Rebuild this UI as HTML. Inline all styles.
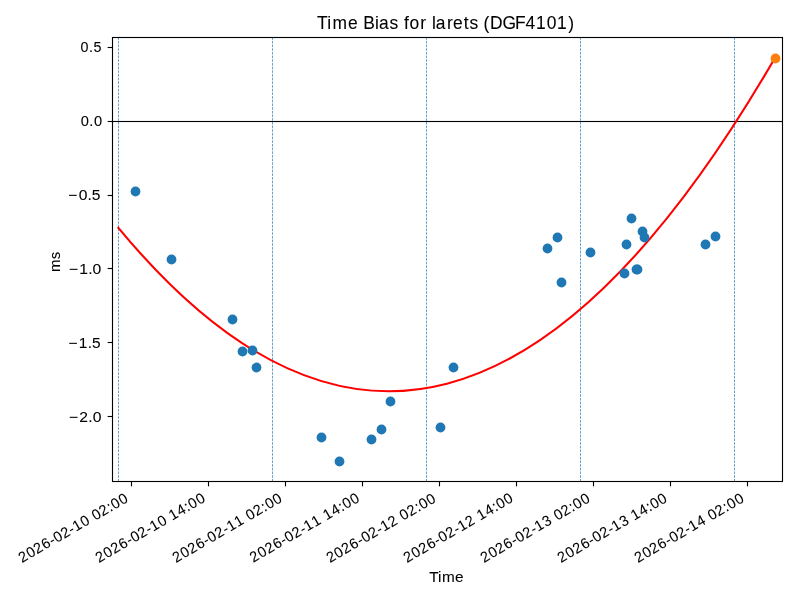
<!DOCTYPE html>
<html><head><meta charset="utf-8"><title>Time Bias for larets (DGF4101)</title>
<style>html,body{margin:0;padding:0;background:#fff;}body{width:800px;height:600px;overflow:hidden;}svg{display:block;}svg{will-change:transform;}</style>
</head><body>
<svg width="800" height="600" viewBox="0 0 800 600">
<rect x="0" y="0" width="800" height="600" fill="#ffffff"/>
<line x1="118.500" y1="481.46" x2="118.500" y2="37" stroke="#1f77b4" stroke-width="0.6944" stroke-dasharray="2.5694 1.1111"/>
<line x1="272.500" y1="481.46" x2="272.500" y2="37" stroke="#1f77b4" stroke-width="0.6944" stroke-dasharray="2.5694 1.1111"/>
<line x1="426.500" y1="481.46" x2="426.500" y2="37" stroke="#1f77b4" stroke-width="0.6944" stroke-dasharray="2.5694 1.1111"/>
<line x1="580.500" y1="481.46" x2="580.500" y2="37" stroke="#1f77b4" stroke-width="0.6944" stroke-dasharray="2.5694 1.1111"/>
<line x1="734.500" y1="481.46" x2="734.500" y2="37" stroke="#1f77b4" stroke-width="0.6944" stroke-dasharray="2.5694 1.1111"/>
<rect x="112.5" y="120.9445" width="670" height="1.111" fill="#000"/>
<path d="M118.400,227.817 Q446.950,625.031 775.500,56.943" fill="none" stroke="#ff0000" stroke-width="2.0833" stroke-linecap="square"/>
<circle cx="135.5" cy="191.5" r="4.89" fill="#1f77b4"/>
<circle cx="171.5" cy="259.5" r="4.89" fill="#1f77b4"/>
<circle cx="232.5" cy="319.5" r="4.89" fill="#1f77b4"/>
<circle cx="242.5" cy="351.5" r="4.89" fill="#1f77b4"/>
<circle cx="252.5" cy="350.5" r="4.89" fill="#1f77b4"/>
<circle cx="256.5" cy="367.5" r="4.89" fill="#1f77b4"/>
<circle cx="321.5" cy="437.5" r="4.89" fill="#1f77b4"/>
<circle cx="339.5" cy="461.5" r="4.89" fill="#1f77b4"/>
<circle cx="371.5" cy="439.5" r="4.89" fill="#1f77b4"/>
<circle cx="381.5" cy="429.5" r="4.89" fill="#1f77b4"/>
<circle cx="390.5" cy="401.5" r="4.89" fill="#1f77b4"/>
<circle cx="440.5" cy="427.5" r="4.89" fill="#1f77b4"/>
<circle cx="453.5" cy="367.5" r="4.89" fill="#1f77b4"/>
<circle cx="547.5" cy="248.5" r="4.89" fill="#1f77b4"/>
<circle cx="557.5" cy="237.5" r="4.89" fill="#1f77b4"/>
<circle cx="561.5" cy="282.5" r="4.89" fill="#1f77b4"/>
<circle cx="590.5" cy="252.5" r="4.89" fill="#1f77b4"/>
<circle cx="624.5" cy="273.5" r="4.89" fill="#1f77b4"/>
<circle cx="626.5" cy="244.5" r="4.89" fill="#1f77b4"/>
<circle cx="631.5" cy="218.5" r="4.89" fill="#1f77b4"/>
<circle cx="636.5" cy="269.5" r="4.89" fill="#1f77b4"/>
<circle cx="637.5" cy="269.5" r="4.89" fill="#1f77b4"/>
<circle cx="642.5" cy="231.5" r="4.89" fill="#1f77b4"/>
<circle cx="644.5" cy="237.5" r="4.89" fill="#1f77b4"/>
<circle cx="705.5" cy="244.5" r="4.89" fill="#1f77b4"/>
<circle cx="715.5" cy="236.5" r="4.89" fill="#1f77b4"/>
<circle cx="775.5" cy="58.5" r="4.89" fill="#ff7f0e"/>
<rect x="112.5" y="37.5" width="670" height="444" fill="none" stroke="#000" stroke-width="1.111" stroke-linecap="square"/>
<line x1="131.5" y1="481.5" x2="131.5" y2="486.36" stroke="#000" stroke-width="1.111"/>
<line x1="208.5" y1="481.5" x2="208.5" y2="486.36" stroke="#000" stroke-width="1.111"/>
<line x1="285.5" y1="481.5" x2="285.5" y2="486.36" stroke="#000" stroke-width="1.111"/>
<line x1="362.5" y1="481.5" x2="362.5" y2="486.36" stroke="#000" stroke-width="1.111"/>
<line x1="439.5" y1="481.5" x2="439.5" y2="486.36" stroke="#000" stroke-width="1.111"/>
<line x1="516.5" y1="481.5" x2="516.5" y2="486.36" stroke="#000" stroke-width="1.111"/>
<line x1="593.5" y1="481.5" x2="593.5" y2="486.36" stroke="#000" stroke-width="1.111"/>
<line x1="670.5" y1="481.5" x2="670.5" y2="486.36" stroke="#000" stroke-width="1.111"/>
<line x1="747.5" y1="481.5" x2="747.5" y2="486.36" stroke="#000" stroke-width="1.111"/>
<line x1="112.5" y1="416.5" x2="107.64" y2="416.5" stroke="#000" stroke-width="1.111"/>
<line x1="112.5" y1="342.5" x2="107.64" y2="342.5" stroke="#000" stroke-width="1.111"/>
<line x1="112.5" y1="268.5" x2="107.64" y2="268.5" stroke="#000" stroke-width="1.111"/>
<line x1="112.5" y1="195.5" x2="107.64" y2="195.5" stroke="#000" stroke-width="1.111"/>
<line x1="112.5" y1="121.5" x2="107.64" y2="121.5" stroke="#000" stroke-width="1.111"/>
<line x1="112.5" y1="47.5" x2="107.64" y2="47.5" stroke="#000" stroke-width="1.111"/>
<g font-family='"Liberation Sans", sans-serif' fill="#000000" stroke="#000000" stroke-width="0.07">
<text transform="translate(21.752 563.179) rotate(-30) scale(1.0453 1.0612)" x="0.186 8.732 16.928 25.475 33.688 38.629 46.824 55.094 59.964 68.525 76.534 81.081 89.277 97.774 102.248 110.618" y="0" font-size="13.889">2026-02-10 02:00</text>
<text transform="translate(98.95 562.97) rotate(-30) scale(1.0448 1.0607)" x="0.188 8.738 16.937 25.488 33.703 38.647 46.846 55.118 59.992 68.556 76.567 81.048 89.61 97.936 102.413 110.787" y="0" font-size="13.889">2026-02-10 14:00</text>
<text transform="translate(175.847 563.067) rotate(-30) scale(1.0420 1.0610)" x="0.199 8.773 16.994 25.569 33.803 38.764 46.986 55.277 60.168 68.686 76.898 81.472 89.694 98.211 102.706 111.103" y="0" font-size="13.889">2026-02-11 02:00</text>
<text transform="translate(253.084 562.919) rotate(-30) scale(1.0415 1.0604)" x="0.201 8.778 17.003 25.582 33.818 38.783 47.008 55.302 60.196 68.718 76.932 81.44 90.029 98.375 102.872 111.273" y="0" font-size="13.889">2026-02-11 14:00</text>
<text transform="translate(329.712 563.205) rotate(-30) scale(1.0425 1.0612)" x="0.197 8.766 16.984 25.555 33.785 38.743 46.961 55.248 60.137 68.544 76.74 81.31 89.528 98.042 102.533 110.927" y="0" font-size="13.889">2026-02-12 02:00</text>
<text transform="translate(406.87 562.989) rotate(-30) scale(1.0420 1.0607)" x="0.199 8.772 16.993 25.567 33.801 38.761 46.983 55.273 60.165 68.575 76.774 81.277 89.862 98.205 102.699 111.097" y="0" font-size="13.889">2026-02-12 14:00</text>
<text transform="translate(483.776 563.128) rotate(-30) scale(1.0421 1.0612)" x="0.199 8.771 16.991 25.564 33.797 38.757 46.978 55.268 60.158 68.762 76.766 81.338 89.559 98.076 102.569 110.965" y="0" font-size="13.889">2026-02-13 02:00</text>
<text transform="translate(560.824 563.011) rotate(-30) scale(1.0417 1.0607)" x="0.2 8.776 17 25.577 33.813 38.776 47 55.292 60.186 68.793 76.799 81.306 89.894 98.239 102.735 111.135" y="0" font-size="13.889">2026-02-13 14:00</text>
<text transform="translate(637.752 563.113) rotate(-30) scale(1.0453 1.0609)" x="0.186 8.732 16.927 25.474 33.686 38.627 46.822 55.091 59.961 68.52 76.531 81.077 89.273 97.769 102.243 110.613" y="0" font-size="13.889">2026-02-14 02:00</text>
<text transform="translate(67.897 421.662) scale(1.1319 1.0629)" x="1.082 10.146 18.015 21.903" y="0" font-size="13.889">−2.0</text>
<text transform="translate(67.165 347.858) scale(1.1159 1.0596)" x="1.155 10.434 18.413 22.337" y="0" font-size="13.889">−1.5</text>
<text transform="translate(67.691 273.792) scale(1.1315 1.0614)" x="1.084 10.234 18.133 22.023" y="0" font-size="13.889">−1.0</text>
<text transform="translate(67.105 199.827) scale(1.1255 1.0613)" x="1.111 10.39 18.13 22.005" y="0" font-size="13.889">−0.5</text>
<text transform="translate(80.448 126.435) scale(1.0567 1.0629)" x="0.316 8.433 12.736" y="0" font-size="13.889">0.0</text>
<text transform="translate(79.974 52.075) scale(1.0309 1.0613)" x="0.42 8.693 13.1" y="0" font-size="13.889">0.5</text>
<text transform="translate(317.13 28.771) scale(1.0449 1.0517)" x="-0.215 9.704 14.627 29.613 39.119 44.031 55.402 59.11 69.247 77.52 83.242 88.416 98.671 104.437 109.826 113.541 124.391 130.103 140.379 145.93 154.204 159.143 165.479 177.346 189.439 199.499 209.466 219.718 229.683 240.258" y="0" font-size="16.667">Time Bias for larets (DGF4101)</text>
<text transform="translate(429.582 581.917) scale(1.1043 1.0469)" x="-0.397 7.569 11.241 23.125" y="0" font-size="13.889">Time</text>
<text transform="translate(59.892 272.629) rotate(-90) scale(1.0772 1.0418)" x="0.529 12.511" y="0" font-size="13.889">ms</text>
</g>
</svg>
</body></html>
